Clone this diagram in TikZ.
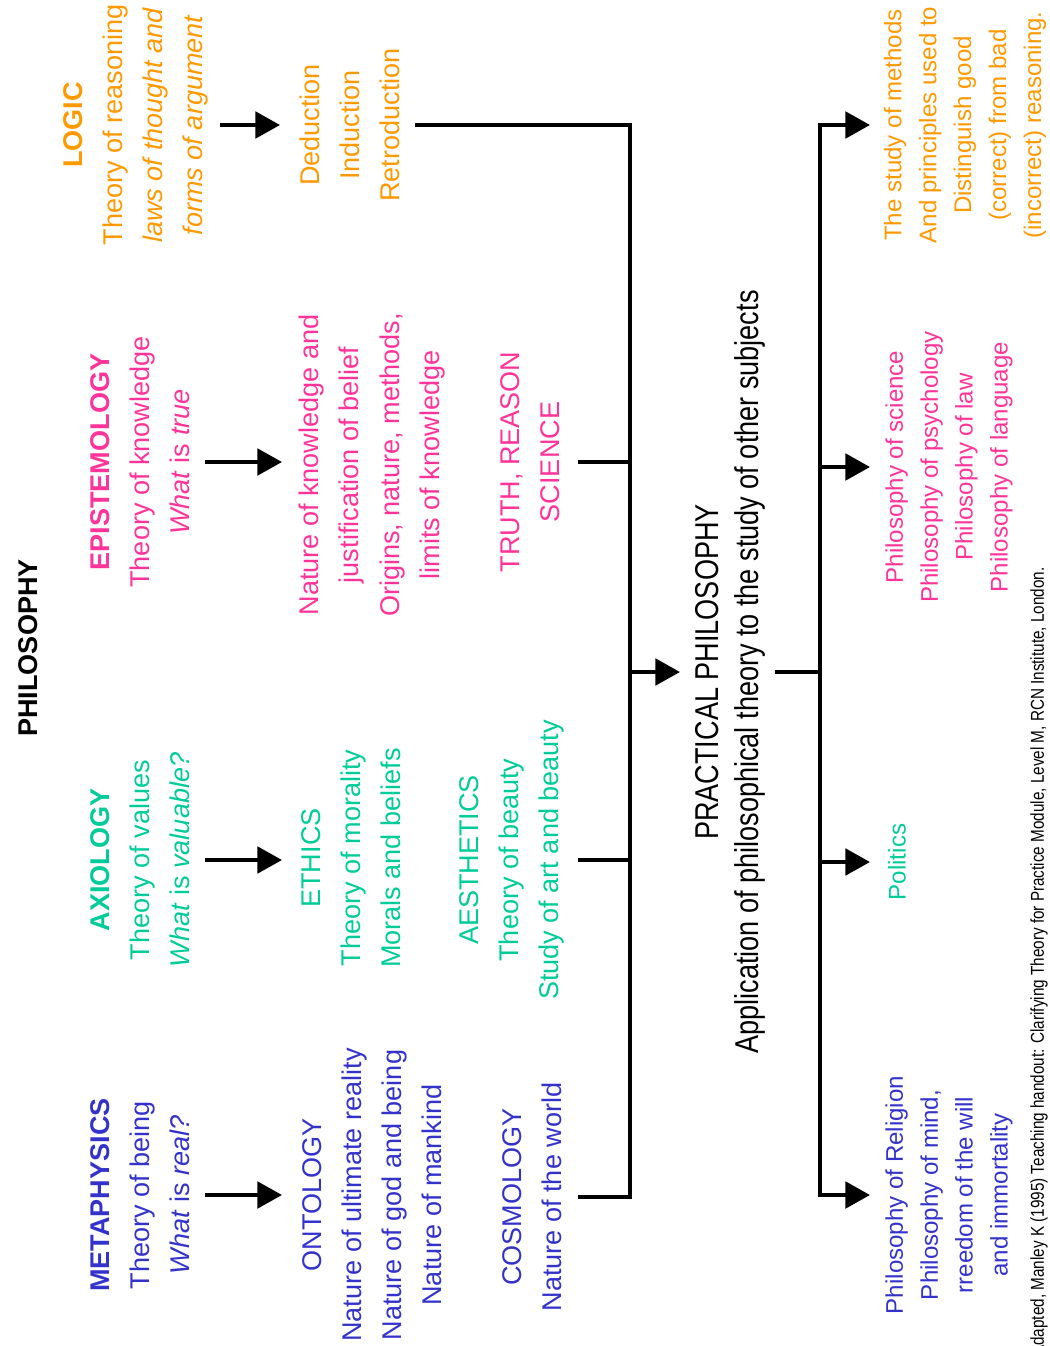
\documentclass[tikz,border=0pt]{standalone}
\usepackage{fontspec}
\setmainfont{Liberation Sans}
\newfontfamily\narrowfont[FakeStretch=0.82]{Liberation Sans}
\usetikzlibrary{arrows.meta}

\definecolor{logicorange}{HTML}{FF9900}
\definecolor{epipink}{HTML}{FF3399}
\definecolor{axiogreen}{HTML}{00CC99}
\definecolor{metablue}{HTML}{3333CC}

\newcommand{\bigtext}{\fontsize{15.4}{22.8}\selectfont}
\newcommand{\smalltext}{\fontsize{13.7}{19.9}\selectfont}

\begin{document}
\begin{tikzpicture}[x=0.02cm,y=-0.02cm,
  branch/.style={rotate=90,align=center,inner sep=0pt,font=\bigtext},
  leaf/.style={rotate=90,align=center,inner sep=0pt,font=\smalltext},
  arr/.style={line width=2.3pt,-{Triangle[length=14pt,width=15pt]}},
  wire/.style={line width=2.3pt}]
  \clip (0,0) rectangle (1049,1346);

  \node[branch,font=\bigtext\bfseries] (title) at (28,648) {PHILOSOPHY};

  % first column: the four branches
  \node[branch,logicorange] (logic) at (136,125)
    {\textbf{LOGIC}\\Theory of reasoning\\\textit{laws of thought and}\\\textit{forms of argument}};
  \node[branch,epipink] (episteme) at (140,462)
    {\textbf{EPISTEMOLOGY}\\Theory of knowledge\\\textit{What} is \textit{true}};
  \node[branch,axiogreen] (axiology) at (140,860)
    {\textbf{AXIOLOGY}\\Theory of values\\\textit{What} is \textit{valuable?}};
  \node[branch,metablue] (metaphys) at (140,1195)
    {\textbf{METAPHYSICS}\\Theory of being\\\textit{What} is \textit{real?}};

  % second column
  \node[branch,logicorange] (deduct) at (350,125) {Deduction\\Induction\\Retroduction};
  \node[branch,epipink] (knowledge) at (372,465)
    {Nature of knowledge and\\justification of belief\\Origins, nature, methods,\\limits of knowledge};
  \node[branch,epipink] (truth) at (530,462) {TRUTH, REASON\\SCIENCE};
  \node[branch,axiogreen] (ethics) at (351,858) {ETHICS\\Theory of morality\\Morals and beliefs};
  \node[branch,axiogreen] (aesthetics) at (512,860)
    {AESTHETICS\\Theory of beauty\\Study of art and beauty};
  \node[branch,metablue] (ontology) at (372,1195)
    {ONTOLOGY\\Nature of ultimate reality\\Nature of god and being\\Nature of mankind};
  \node[branch,metablue] (cosmo) at (532,1197) {COSMOLOGY\\Nature of the world};

  % middle
  \node[branch,font=\narrowfont\fontsize{18.8}{22.8}\selectfont] (practical) at (730,672)
    {PRACTICAL PHILOSOPHY\\Application of philosophical theory to the study of other subjects};

  % right column
  \node[leaf,logicorange] (methods) at (965,125)
    {The study of methods\\And principles used to\\Distinguish good\\(correct) from bad\\(incorrect) reasoning.};
  \node[leaf,epipink] (philsci) at (949,467)
    {Philosophy of science\\Philosophy of psychology\\Philosophy of law\\Philosophy of language};
  \node[leaf,axiogreen] (politics) at (897,862) {Politics};
  \node[leaf,metablue] (religion) at (949,1195)
    {Philosophy of Religion\\Philosophy of mind,\\rreedom of the will\\and immortality};

  \node[rotate=90,anchor=east,inner sep=0pt,font=\narrowfont\fontsize{10.6}{12}\selectfont] (source) at (1039,567)
    {Adapted, Manley K (1995) Teaching handout: Clarifying Theory for Practice Module, Level M, RCN Institute, London.};

  % arrows and buses
  \coordinate (busL) at (630,0);
  \coordinate (busR) at (820,0);

  \draw[arr] (220,0 |- logic) -- (280,0 |- logic);
  \foreach \n in {episteme,axiology,metaphys}
    \draw[arr] (205,0 |- \n) -- (282,0 |- \n);

  \draw[wire] (415,0 |- deduct) -| (busL |- cosmo) -- (578,0 |- cosmo);
  \draw[wire] (578,0 |- truth) -- (busL |- truth);
  \draw[wire] (578,0 |- aesthetics) -- (busL |- aesthetics);
  \draw[arr] (busL |- practical) -- (680,0 |- practical);

  \draw[wire] (775,0 |- practical) -- (busR |- practical);
  \draw[arr] (busR |- practical) |- (870,0 |- methods);
  \draw[arr] (busR |- practical) |- (870,0 |- religion);
  \draw[arr] (busR |- philsci) -- (870,0 |- philsci);
  \draw[arr] (busR |- politics) -- (870,0 |- politics);
\end{tikzpicture}
\end{document}
